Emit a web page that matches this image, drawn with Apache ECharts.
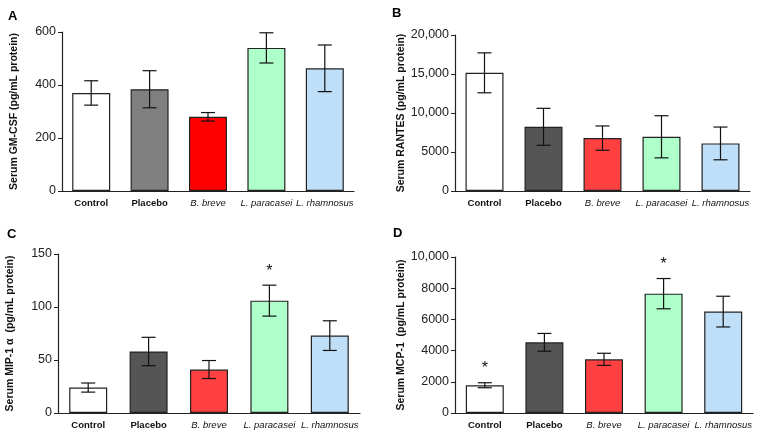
<!DOCTYPE html>
<html>
<head>
<meta charset="utf-8">
<script src="https://cdn.jsdelivr.net/npm/echarts@6/dist/echarts.min.js"></script>
<style>
  html, body { margin: 0; padding: 0; background: #fff; }
  #main { width: 768px; height: 437px; }
</style>
</head>
<body>
<div id="main"></div>
<script>
var categories = ['Control', 'Placebo', 'B. breve', 'L. paracasei', 'L. rhamnosus'];

// A: GM-CSF
var gmcsfMean = [370, 384, 280, 540, 463];
var gmcsfErr = [46, 70, 16, 57, 88];
// B: RANTES
var rantesMean = [15150, 8230, 6780, 6950, 6100];
var rantesErr = [2560, 2370, 1560, 2700, 2100];
// C: MIP-1 alpha
var mipMean = [24, 58, 41, 106, 73];
var mipErr = [4.3, 13.4, 8.5, 14.6, 14];
var mipSig = ['', '', '', '*', ''];
// D: MCP-1
var mcpMean = [1780, 4530, 3440, 7650, 6500];
var mcpErr = [160, 570, 390, 970, 985];
var mcpSig = ['*', '', '', '*', ''];

var colorsA = ['#ffffff', '#808080', '#ff0000', '#aeffca', '#bfdff8'];
var colorsB = ['#ffffff', '#555555', '#ff4040', '#aeffca', '#bfdff8'];

var panels = [
  { letter: 'A', name: 'Serum GM-CSF (pg/mL protein)', mean: gmcsfMean, err: gmcsfErr, sig: null, colors: colorsA,
    max: 600, interval: 200, grid: { left: 62, top: 32, width: 292, height: 159 }, lx: 8, ly: 10 },
  { letter: 'B', name: 'Serum RANTES (pg/mL protein)', mean: rantesMean, err: rantesErr, sig: null, colors: colorsB,
    max: 20000, interval: 5000, grid: { left: 455, top: 35, width: 295, height: 156 }, lx: 392, ly: 7 },
  { letter: 'C', name: 'Serum MIP-1 \u03b1  (pg/mL protein)', mean: mipMean, err: mipErr, sig: mipSig, colors: colorsB,
    max: 150, interval: 50, grid: { left: 58, top: 254, width: 302, height: 159 }, lx: 7, ly: 228 },
  { letter: 'D', name: 'Serum MCP-1  (pg/mL protein)', mean: mcpMean, err: mcpErr, sig: mcpSig, colors: colorsB,
    max: 10000, interval: 2000, grid: { left: 455, top: 257, width: 298, height: 156 }, lx: 393, ly: 227 }
];

function tickFmt(v) {
  if (v >= 10000) return v.toLocaleString('en-US');
  return String(v);
}

var grids = [], xAxes = [], yAxes = [], series = [], graphics = [];

panels.forEach(function (p, k) {
  grids.push(p.grid);
  xAxes.push({
    type: 'category',
    gridIndex: k,
    data: categories,
    axisLine: { lineStyle: { color: '#222', width: 1.2 } },
    axisTick: { alignWithLabel: true, length: 4, lineStyle: { color: '#222' } },
    axisLabel: {
      margin: 7,
      interval: 0,
      formatter: function (v, i) {
        return i >= 2 ? '{it|' + v + '}' : '{n|' + v + '}';
      },
      rich: {
        n: { fontFamily: 'Liberation Sans, Arial', fontSize: 9.5, fontWeight: 'bold', color: '#111' },
        it: { fontFamily: 'Liberation Sans, Arial', fontSize: 9.5, fontStyle: 'italic', color: '#111' }
      }
    }
  });
  yAxes.push({
    type: 'value',
    gridIndex: k,
    min: 0,
    max: p.max,
    interval: p.interval,
    name: p.name,
    nameLocation: 'middle',
    nameGap: 42,
    nameTextStyle: { fontFamily: 'Liberation Sans, Arial', fontSize: 10.5, fontWeight: 'bold', color: '#111' },
    axisLine: { show: true, lineStyle: { color: '#222', width: 1.2 } },
    axisTick: { show: true, length: 4, lineStyle: { color: '#222' } },
    splitLine: { show: false },
    axisLabel: { margin: 6, fontFamily: 'Liberation Sans, Arial', fontSize: 12.5, color: '#222', formatter: tickFmt }
  });
  series.push({
    type: 'bar',
    xAxisIndex: k,
    yAxisIndex: k,
    barWidth: 38,
    data: p.mean.map(function (v, i) {
      return { value: v, itemStyle: { color: p.colors[i] } };
    }),
    itemStyle: { borderColor: '#222', borderWidth: 1.2 },
    silent: true
  });
  series.push({
    type: 'custom',
    xAxisIndex: k,
    yAxisIndex: k,
    data: p.mean.map(function (v, i) { return [i, v - p.err[i], v + p.err[i], p.sig ? p.sig[i] : '']; }),
    z: 5,
    renderItem: function (params, api) {
      var lo = api.coord([api.value(0), api.value(1)]);
      var hi = api.coord([api.value(0), api.value(2)]);
      var x = lo[0], cap = 7;
      var st = { stroke: '#111', lineWidth: 1.2 };
      var children = [
        { type: 'line', shape: { x1: x, y1: lo[1], x2: x, y2: hi[1] }, style: st },
        { type: 'line', shape: { x1: x - cap, y1: lo[1], x2: x + cap, y2: lo[1] }, style: st },
        { type: 'line', shape: { x1: x - cap, y1: hi[1], x2: x + cap, y2: hi[1] }, style: st }
      ];
      var s = p.sig ? p.sig[params.dataIndex] : '';
      if (s) {
        children.push({
          type: 'text',
          style: { text: s, x: x, y: hi[1] - 6, align: 'center', verticalAlign: 'bottom',
            fill: '#111', font: '16px Liberation Sans, Arial' }
        });
      }
      return { type: 'group', children: children };
    }
  });
  graphics.push({
    type: 'text', left: p.lx, top: p.ly,
    style: { text: p.letter, fill: '#000', font: 'bold 13px Liberation Sans, Arial' }
  });
});

var chart = echarts.init(document.getElementById('main'));
chart.setOption({
  animation: false,
  backgroundColor: '#fff',
  grid: grids,
  xAxis: xAxes,
  yAxis: yAxes,
  series: series,
  graphic: graphics
});
</script>
</body>
</html>
